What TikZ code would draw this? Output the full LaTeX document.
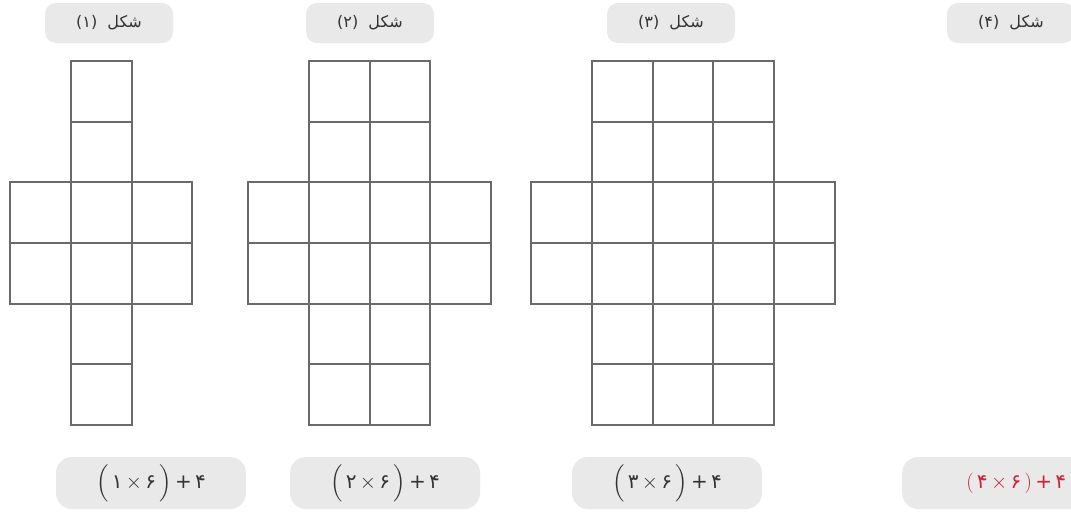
\documentclass[tikz,border=0pt]{standalone}
\usepackage{exscale}
\usepackage{fontspec}
\newfontfamily\fa[Script=Arabic]{DejaVu Sans}
\newfontfamily\fanum{DejaVu Sans}
\TeXXeTstate=1
\definecolor{gridgray}{HTML}{6A6A6A}
\definecolor{boxgray}{HTML}{E9E9E9}
\definecolor{txtgray}{HTML}{333333}
\definecolor{ansred}{HTML}{D21F33}
\tikzset{
  gridline/.style={draw=gridgray, line width=2.2pt},
  lbl/.style={fill=boxgray, rounded corners=11pt, minimum width=128pt, minimum height=40pt, inner sep=0pt, text=txtgray, font=\fa\fontsize{16}{19}\selectfont},
  fbox/.style={fill=boxgray, rounded corners=16pt, minimum width=190pt, minimum height=52pt, inner sep=0pt, text=txtgray, font=\fanum\fontsize{20}{24}\selectfont},
}
\def\cs{60.67}
\newcommand\crossfig[2]{%
  \foreach \c in {1,...,#2}{\foreach \r in {0,...,5}{%
    \draw[gridline] ({#1+(\c-1)*\cs},{61+\r*\cs}) rectangle ++(\cs,\cs);}}
  \foreach \r in {2,3}{%
    \draw[gridline] ({#1-\cs},{61+\r*\cs}) rectangle ++(\cs,\cs);
    \draw[gridline] ({#1+#2*\cs},{61+\r*\cs}) rectangle ++(\cs,\cs);}
}
\newcommand\frm[1]{$\Bigl($\,#1\,$\times$\,۶\,$\Bigr)$\,+\,۴}
\begin{document}
\begin{tikzpicture}[x=1pt,y=-1pt]
\useasboundingbox (0,0) rectangle (1071,515);
% labels
\node[lbl] (l1) at (109,23) {(۱)\ \ \beginR شکل\endR};
\node[lbl] (l2) at (370,23) {(۲)\ \ \beginR شکل\endR};
\node[lbl] (l3) at (671,23) {(۳)\ \ \beginR شکل\endR};
\node[lbl] (l4) at (1011,23) {(۴)\ \ \beginR شکل\endR};
% grids
\crossfig{71}{1}
\crossfig{309}{2}
\crossfig{592}{3}
% formulas
\node[fbox] (f1) at (151,483) {\frm{۱}};
\node[fbox] (f2) at (385,483) {\frm{۲}};
\node[fbox] (f3) at (667,483) {\frm{۳}};
\node[fbox, minimum width=200pt, text=ansred, anchor=west] (f4) at (902,483) {\hspace*{58pt}$($\,۴\,$\times$\,۶\,$)$\,+\,۴\hspace*{30pt}};
\end{tikzpicture}
\end{document}
